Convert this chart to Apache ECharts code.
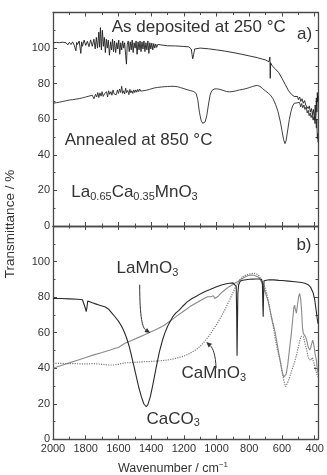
<!DOCTYPE html>
<html><head><meta charset="utf-8">
<script src="https://cdn.jsdelivr.net/npm/echarts@6/dist/echarts.min.js"></script>
<style>html,body{margin:0;padding:0;background:#fff}#c{width:327px;height:475px}</style>
</head><body><div id="c"></div>
<script>
// ---- data (wavenumber cm^-1, transmittance %) ----
const asDeposited = [[2000,103],[1990,102.8],[1980,103.2],[1970,102.6],[1960,103],[1950,102.5],[1940,103.3],[1930,102.4],[1920,103],[1910,101.8],[1900,103.2],[1890,102],[1880,103.5],[1870,101.5],[1860,98.5],[1855,103.2],[1850,102],[1840,104],[1830,97],[1825,103.5],[1820,101],[1810,104.5],[1800,101.5],[1790,103.8],[1780,100.8],[1770,104.6],[1760,101],[1750,105],[1742,99.5],[1735,106],[1728,100],[1720,109],[1715,100.5],[1710,111.5],[1704,99],[1698,110],[1692,101],[1686,106],[1680,97.5],[1674,105],[1668,100],[1662,104.5],[1655,96],[1648,103.5],[1642,99],[1636,105],[1630,98],[1624,104],[1617,97.5],[1610,103],[1604,99.5],[1598,104.5],[1592,96.5],[1586,103],[1580,99],[1574,104],[1568,100],[1562,103],[1556,96],[1551,91],[1546,102],[1540,104],[1534,98],[1528,103.5],[1522,99],[1516,104.5],[1510,97.5],[1504,103],[1498,100],[1492,104],[1486,96.5],[1480,103.5],[1474,99],[1468,104],[1462,98],[1456,103.5],[1450,99.5],[1444,104],[1438,98],[1432,103],[1426,99],[1420,104],[1414,97],[1408,103],[1402,99.5],[1396,102.8],[1390,99],[1384,102.5],[1378,100],[1372,102.3],[1366,100.4],[1360,102],[1350,101],[1340,101.8],[1330,101.2],[1300,101.3],[1250,101.2],[1200,100.9],[1170,100.7],[1155,99.5],[1150,96.5],[1146,94],[1140,96.5],[1134,99.5],[1125,100.2],[1100,100],[1050,99.6],[1000,99],[950,98.3],[900,97.5],[850,96.6],[800,95.6],[750,94.6],[720,93.8],[700,93.3],[690,92.8],[680,92.3],[676,92.2],[674,95],[672,83],[670,91.8],[665,91],[660,90],[640,88.2],[620,86.2],[600,83],[580,79.5],[560,76],[540,73.8],[525,72.8],[515,72.3],[505,72.8],[500,71],[492,72.5],[485,70],[478,71.5],[470,69],[462,70.5],[455,68],[448,69],[440,66],[433,67.5],[427,64],[420,66],[414,62.5],[408,65.5],[402,60],[397,68],[393,62],[390,72],[387,64],[384,75],[382,70],[380,73]];
const annealed = [[2000,69],[1980,69.3],[1960,69.6],[1940,70],[1920,70.4],[1900,70.8],[1880,71],[1860,71.3],[1840,71.6],[1820,72],[1810,71.5],[1800,72.5],[1790,71.8],[1780,73],[1770,72],[1760,73.5],[1750,71.5],[1740,74],[1733,72.5],[1726,75],[1720,72.2],[1713,74.8],[1706,73],[1700,75.5],[1693,72.8],[1686,74.2],[1680,73.2],[1673,75.5],[1666,72.5],[1660,76],[1653,74],[1646,75.5],[1640,73.5],[1633,76.5],[1626,74.2],[1620,75.2],[1613,73.8],[1606,76.5],[1600,74.5],[1593,77],[1586,75],[1580,78.5],[1574,74.5],[1568,76],[1562,74.2],[1556,77.5],[1550,75],[1543,76.2],[1536,73.8],[1530,76.8],[1524,74.8],[1518,76],[1512,74.5],[1506,76.5],[1500,75],[1494,76.5],[1488,75.2],[1482,76.8],[1476,75.5],[1470,77],[1464,75.8],[1458,76.8],[1450,76],[1440,76.9],[1430,76.3],[1420,77.2],[1410,76.8],[1400,77.5],[1380,77.6],[1360,77.9],[1340,78.1],[1320,78.3],[1300,78.4],[1280,78.5],[1260,78.5],[1240,78.3],[1220,77.8],[1200,77.2],[1180,76.6],[1160,76.1],[1140,75.6],[1125,74.5],[1115,71],[1105,64],[1095,59.5],[1085,57.7],[1078,57.5],[1070,58.5],[1060,62],[1050,68],[1040,73.5],[1030,76],[1015,77],[1000,77.1],[980,76.8],[960,76.2],[940,75.6],[920,75.4],[900,75.6],[880,76],[860,76.5],[840,76.8],[820,77.2],[800,77.8],[780,78.4],[765,78.8],[750,79],[735,78.5],[720,77.3],[700,75.8],[685,74.8],[670,73.5],[655,71.5],[640,68.5],[625,64.5],[610,58.5],[600,53.5],[590,48.5],[582,46.3],[575,48],[565,54],[555,60],[545,64.5],[535,67.5],[525,69],[515,69.8],[508,69.2],[500,68.5],[493,69.5],[486,67],[480,68.8],[473,66.5],[466,68],[460,65.5],[452,67],[446,63.5],[440,65],[434,62],[428,63.5],[422,61],[416,62.5],[410,59.5],[404,61.5],[398,57.5],[394,62],[390,55],[387,60],[384,49],[382,52],[380,47]];
const caco3 = [[2000,79.2],[1950,79.2],[1900,79],[1850,78.8],[1820,78.5],[1810,77.5],[1803,74],[1797,71.8],[1792,74.5],[1788,77.8],[1780,77.6],[1760,76.8],[1740,76.2],[1720,75.6],[1700,75],[1680,74.4],[1660,73.2],[1640,71],[1620,68.8],[1600,66.5],[1580,63.5],[1565,60.5],[1550,57],[1535,52.5],[1520,47],[1505,41],[1490,35],[1475,29],[1460,24],[1445,20],[1430,18.3],[1420,19.5],[1405,24],[1390,30.5],[1370,40],[1350,49],[1330,56],[1317,59.6],[1300,63.5],[1280,67],[1266,69.2],[1250,71],[1230,72.5],[1205,75],[1180,77.3],[1150,79.2],[1124,80.5],[1100,81.8],[1070,83.2],[1040,84.3],[1022,85],[1000,85.8],[970,86.8],[940,87.5],[920,87.8],[900,88],[888,87.8],[880,86],[877,70],[875,47],[873,60],[870,82],[865,87],[855,89],[840,89.5],[820,89.8],[800,90],[780,90.1],[760,90.2],[740,90.2],[725,90],[720,88],[717,75],[715,69],[713,80],[710,89.2],[700,89.6],[680,89.8],[650,89.7],[620,89.4],[600,89.3],[560,89],[520,88.6],[480,88.2],[460,87.8],[440,87],[425,85.5],[410,82.5],[400,78.5],[392,73],[385,68],[380,65]];
const lamno3 = [[2000,40],[1950,41.5],[1900,43],[1850,44.5],[1800,46],[1750,47.5],[1700,48.8],[1650,50.2],[1620,51.2],[1600,51.6],[1560,54],[1520,55.6],[1480,57.2],[1440,58.8],[1400,60.5],[1360,62.2],[1320,64.2],[1280,66.8],[1240,69.6],[1200,72.2],[1160,74.8],[1120,77],[1090,78.5],[1070,79.5],[1055,80.2],[1045,79.5],[1035,80.2],[1020,80.8],[1010,79.2],[1000,78.3],[990,80.5],[970,82.5],[950,84],[930,85.5],[910,86.5],[890,87.8],[870,88.8],[850,90],[830,91.2],[810,92],[790,92.4],[770,92.3],[750,91.5],[737,90.5],[720,87.5],[700,82],[686,78],[670,71],[655,65],[645,61.5],[630,54],[615,46],[600,38.5],[590,35],[584,34.3],[575,36.5],[565,42],[555,50],[543,59.6],[535,67],[528,74],[523,75.5],[518,73],[512,71],[505,76],[498,80.5],[492,82],[486,79],[480,72],[475,63],[470,59.6],[462,58.5],[455,57.5],[447,55],[440,52],[431,50.2],[425,51.5],[418,54],[412,55.8],[405,53],[398,48],[390,44.6],[385,40],[380,37]];
const camno3 = [[2000,42.7],[1950,42.7],[1900,42.6],[1850,42.5],[1800,42.4],[1750,42.6],[1700,42.2],[1660,41.8],[1630,41.8],[1600,42.2],[1560,43],[1500,43.3],[1450,43.6],[1400,43.8],[1350,44.1],[1300,44.6],[1250,45.5],[1200,46.8],[1160,48.5],[1120,50.8],[1090,53.2],[1060,56.5],[1040,59],[1020,61.8],[1000,64.5],[980,67.8],[960,71],[940,74.6],[920,78.5],[900,82.5],[880,86.5],[860,89.5],[840,91.5],[818,92.5],[790,93.2],[770,93.4],[750,92.8],[737,91.5],[720,89],[705,85.5],[696,83],[680,76.5],[665,69],[655,64],[640,56],[625,49],[614,45.5],[600,38.5],[588,32.5],[578,29.6],[570,30.5],[560,33],[550,36],[540,38.8],[533,40.8],[523,43.5],[510,48],[500,52],[490,56],[482,58],[475,58.7],[468,57.5],[460,54],[455,53],[448,50],[441,46.5],[435,45],[428,44.3],[421,44.6],[415,46],[410,45],[405,43],[400,41],[392,38.5],[385,36],[380,35]];

const xMajorTicks = [2000,1800,1600,1400,1200,1000,800,600,400];
const xMinorTicks = [1900,1700,1500,1300,1100,900,700,500];
const xMin = 380, xMax = 2000;
const yMin = 0, yMax = 120, yStep = 20;

// annotation anchors in data coordinates [wavenumber, %]
const labelsA = [
  {text:'As deposited at 250 °C', at:[1641,111.5]},
  {text:'a)', at:[508,108]},
  {text:'Annealed at 850 °C', at:[1928,48]},
  {text:'{m|La}{s|0.65}{m|Ca}{s|0.35}{m|MnO}{s|3}', at:[1888,19]}
];
const labelsB = [
  {text:'b)', at:[512,109.3]},
  {text:'{m|LaMnO}{s|3}', at:[1612,96]},
  {text:'{m|CaMnO}{s|3}', at:[1215,37]},
  {text:'{m|CaCO}{s|3}', at:[1429,11.5]}
];
const arrowLa = [[1470,87],[1470,68],[1452,62.6],[1405,59.8]];
const arrowCa = [[1003,40],[1006,47.4],[1022,51.3],[1063,54.8]];

const FONT = '"Liberation Sans", Arial, Helvetica, sans-serif';
const AX = '#4a4a4a';
const TXT = '#333';

const chart = echarts.init(document.getElementById('c'), null, {renderer:'canvas'});

const grids = [
  {left:53, top:12.5, width:265, height:213.5},
  {left:53, top:226, width:265, height:213.3}
];

function xAxes(g){
  const base = {type:'value', gridIndex:g, min:xMin, max:xMax, inverse:true, splitLine:{show:false},
    axisLine:{show:true, onZero:false, lineStyle:{color:AX, width:1.3}}};
  const major = {show:true, inside:true, length:4, customValues:xMajorTicks, lineStyle:{color:AX, width:1}};
  const minor = {show:true, inside:true, length:2.5, customValues:xMinorTicks, lineStyle:{color:AX, width:1}};
  return [
    Object.assign({}, base, {position:'bottom', axisTick:major,
      axisLabel:{show:g===1, customValues:xMajorTicks, fontSize:11, color:TXT, fontFamily:FONT, margin:4,
        formatter: v => String(v)}}),
    Object.assign({}, base, {position:'top', axisTick:major, axisLabel:{show:false}}),
    Object.assign({}, base, {position:'bottom', axisLine:{show:false, onZero:false}, axisTick:minor, axisLabel:{show:false}}),
    Object.assign({}, base, {position:'top', axisLine:{show:false, onZero:false}, axisTick:minor, axisLabel:{show:false}})
  ];
}
function yAxes(g){
  const base = {type:'value', gridIndex:g, min:yMin, max:yMax, interval:yStep, splitLine:{show:false},
    axisLine:{show:true, onZero:false, lineStyle:{color:AX, width:1.3}},
    axisTick:{show:true, inside:true, length:4, lineStyle:{color:AX}},
    minorTick:{show:true, splitNumber:2, length:2.5, lineStyle:{color:AX}}};
  return [
    Object.assign({}, base, {position:'left', axisLabel:{fontSize:11, color:TXT, fontFamily:FONT, margin:3,
      formatter: v => (v === yMax ? '' : String(v))}}),
    Object.assign({}, base, {position:'right', axisLabel:{show:false}})
  ];
}

function line(data, xi, yi, color, width, type){
  return {type:'line', xAxisIndex:xi, yAxisIndex:yi, data:data, showSymbol:false, symbol:'none',
    lineStyle:{color:color, width:width, type:type||'solid'}, z:3, animation:false};
}

chart.setOption({
  animation:false,
  backgroundColor:'#fff',
  grid: grids,
  xAxis: xAxes(0).concat(xAxes(1)),
  yAxis: yAxes(0).concat(yAxes(1)),
  series: [
    line(asDeposited, 0, 0, '#1e1e1e', 0.9),
    line(annealed, 0, 0, '#2a2a2a', 0.9),
    line(lamno3, 4, 2, '#8a8a8a', 1.1),
    line(camno3, 4, 2, '#7a7a7a', 1.2, 'dotted'),
    line(caco3, 4, 2, '#2a2a2a', 1.1)
  ]
});

const rich = {
  m:{fontSize:17, fontFamily:FONT, fill:TXT, lineHeight:20},
  s:{fontSize:11, fontFamily:FONT, fill:TXT, lineHeight:9, verticalAlign:'bottom'}
};
function px(pt, g){
  return chart.convertToPixel(g===0 ? {xAxisIndex:0, yAxisIndex:0} : {xAxisIndex:4, yAxisIndex:2}, pt);
}
const graphics = [];
function addLabels(list, g){
  list.forEach(l => {
    const p = px(l.at, g);
    const isRich = l.text.indexOf('{') >= 0;
    graphics.push({type:'text', x:p[0], y:p[1], z:10, style:{
      text:l.text, font:'17px ' + FONT, fill:TXT, align:'left', verticalAlign:'middle',
      rich: isRich ? rich : undefined}});
  });
}
addLabels(labelsA, 0);
addLabels(labelsB, 1);

function addArrow(pts, g){
  const p = pts.map(q => px(q, g));
  const tip = p[3], c2 = p[2];
  let dx = tip[0]-c2[0], dy = tip[1]-c2[1];
  const L = Math.hypot(dx, dy) || 1; dx/=L; dy/=L;
  const hl = 5.5, hw = 2.4;
  const bx = tip[0]-dx*hl, by = tip[1]-dy*hl;
  graphics.push({type:'bezierCurve', z:10, shape:{x1:p[0][0], y1:p[0][1], cpx1:p[1][0], cpy1:p[1][1],
    cpx2:p[2][0], cpy2:p[2][1], x2:bx, y2:by}, style:{stroke:'#333', lineWidth:1, fill:null}});
  graphics.push({type:'polygon', z:10, shape:{points:[[tip[0],tip[1]],[bx-dy*hw, by+dx*hw],[bx+dy*hw, by-dx*hw]]},
    style:{fill:'#333'}});
}
addArrow(arrowLa, 1);
addArrow(arrowCa, 1);

// axis titles
graphics.push({type:'text', x:10, y:224, rotation:Math.PI/2, z:10, style:{
  text:'Transmittance / %', font:'13.5px ' + FONT, fill:TXT, align:'center', verticalAlign:'middle'}});
graphics.push({type:'text', x:118, y:469, z:10, style:{
  text:'{m|Wavenumber / cm}{s|−1}', align:'left', verticalAlign:'middle', fill:TXT,
  rich:{m:{fontSize:12.5, fontFamily:FONT, fill:TXT, lineHeight:16},
        s:{fontSize:8, fontFamily:FONT, fill:TXT, lineHeight:9, verticalAlign:'top'}}}});

chart.setOption({graphic: graphics});
</script>
</body></html>
